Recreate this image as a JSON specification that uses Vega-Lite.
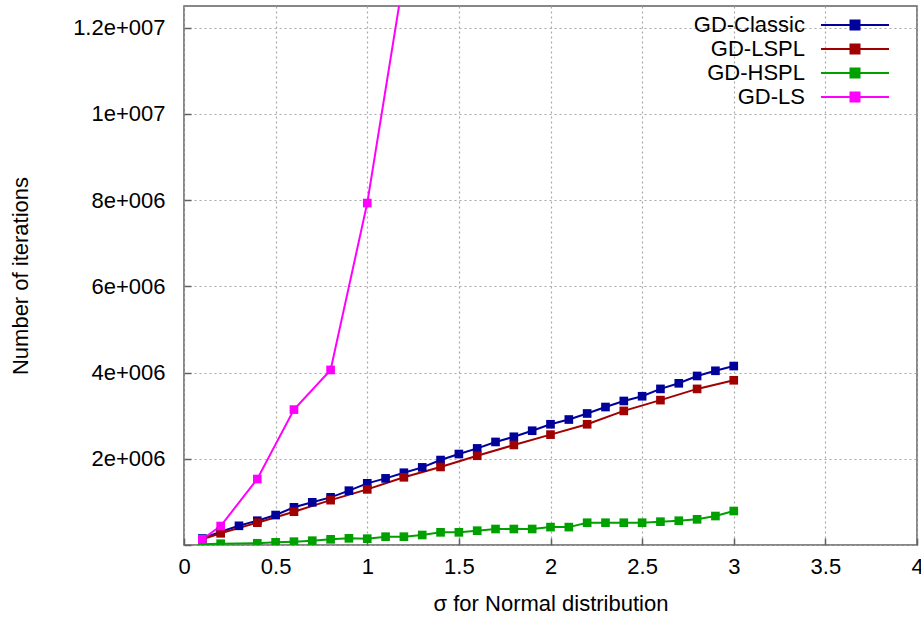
{
  "$schema": "https://vega.github.io/schema/vega-lite/v6.json",
  "width": 733,
  "height": 539,
  "autosize": {"type": "none"},
  "padding": {"left": 184, "top": 6, "right": 4, "bottom": 74},
  "background": "white",
  "config": {
    "font": "Liberation Sans",
    "view": {"stroke": "#606060", "strokeWidth": 1.5},
    "axis": {
      "labelFont": "Liberation Sans",
      "titleFont": "Liberation Sans",
      "labelFontSize": 22,
      "titleFontSize": 22,
      "labelColor": "#000",
      "titleColor": "#000",
      "titleFontWeight": "normal",
      "domain": false,
      "gridColor": "#a8a8a8",
      "gridDash": [2, 3],
      "gridWidth": 1.2,
      "tickColor": "#606060",
      "tickWidth": 1.5
    }
  },
  "data": {
    "values": [
      {"s": "GD-Classic", "x": 0.1, "y": 150000},
      {"s": "GD-Classic", "x": 0.2, "y": 310000},
      {"s": "GD-Classic", "x": 0.3, "y": 445000},
      {"s": "GD-Classic", "x": 0.4, "y": 563000},
      {"s": "GD-Classic", "x": 0.5, "y": 695000},
      {"s": "GD-Classic", "x": 0.6, "y": 874000},
      {"s": "GD-Classic", "x": 0.7, "y": 990000},
      {"s": "GD-Classic", "x": 0.8, "y": 1105000},
      {"s": "GD-Classic", "x": 0.9, "y": 1260000},
      {"s": "GD-Classic", "x": 1.0, "y": 1430000},
      {"s": "GD-Classic", "x": 1.1, "y": 1545000},
      {"s": "GD-Classic", "x": 1.2, "y": 1676000},
      {"s": "GD-Classic", "x": 1.3, "y": 1800000},
      {"s": "GD-Classic", "x": 1.4, "y": 1970000},
      {"s": "GD-Classic", "x": 1.5, "y": 2110000},
      {"s": "GD-Classic", "x": 1.6, "y": 2240000},
      {"s": "GD-Classic", "x": 1.7, "y": 2390000},
      {"s": "GD-Classic", "x": 1.8, "y": 2510000},
      {"s": "GD-Classic", "x": 1.9, "y": 2650000},
      {"s": "GD-Classic", "x": 2.0, "y": 2800000},
      {"s": "GD-Classic", "x": 2.1, "y": 2910000},
      {"s": "GD-Classic", "x": 2.2, "y": 3050000},
      {"s": "GD-Classic", "x": 2.3, "y": 3200000},
      {"s": "GD-Classic", "x": 2.4, "y": 3340000},
      {"s": "GD-Classic", "x": 2.5, "y": 3450000},
      {"s": "GD-Classic", "x": 2.6, "y": 3620000},
      {"s": "GD-Classic", "x": 2.7, "y": 3750000},
      {"s": "GD-Classic", "x": 2.8, "y": 3920000},
      {"s": "GD-Classic", "x": 2.9, "y": 4040000},
      {"s": "GD-Classic", "x": 3.0, "y": 4150000},
      {"s": "GD-LSPL", "x": 0.1, "y": 132000},
      {"s": "GD-LSPL", "x": 0.2, "y": 271000},
      {"s": "GD-LSPL", "x": 0.4, "y": 517000},
      {"s": "GD-LSPL", "x": 0.6, "y": 772000},
      {"s": "GD-LSPL", "x": 0.8, "y": 1040000},
      {"s": "GD-LSPL", "x": 1.0, "y": 1290000},
      {"s": "GD-LSPL", "x": 1.2, "y": 1570000},
      {"s": "GD-LSPL", "x": 1.4, "y": 1810000},
      {"s": "GD-LSPL", "x": 1.6, "y": 2070000},
      {"s": "GD-LSPL", "x": 1.8, "y": 2320000},
      {"s": "GD-LSPL", "x": 2.0, "y": 2560000},
      {"s": "GD-LSPL", "x": 2.2, "y": 2800000},
      {"s": "GD-LSPL", "x": 2.4, "y": 3110000},
      {"s": "GD-LSPL", "x": 2.6, "y": 3360000},
      {"s": "GD-LSPL", "x": 2.8, "y": 3620000},
      {"s": "GD-LSPL", "x": 3.0, "y": 3820000},
      {"s": "GD-HSPL", "x": 0.1, "y": 20000},
      {"s": "GD-HSPL", "x": 0.2, "y": 30000},
      {"s": "GD-HSPL", "x": 0.4, "y": 40000},
      {"s": "GD-HSPL", "x": 0.5, "y": 62000},
      {"s": "GD-HSPL", "x": 0.6, "y": 77000},
      {"s": "GD-HSPL", "x": 0.7, "y": 100000},
      {"s": "GD-HSPL", "x": 0.8, "y": 132000},
      {"s": "GD-HSPL", "x": 0.9, "y": 155000},
      {"s": "GD-HSPL", "x": 1.0, "y": 147000},
      {"s": "GD-HSPL", "x": 1.1, "y": 193000},
      {"s": "GD-HSPL", "x": 1.2, "y": 193000},
      {"s": "GD-HSPL", "x": 1.3, "y": 232000},
      {"s": "GD-HSPL", "x": 1.4, "y": 294000},
      {"s": "GD-HSPL", "x": 1.5, "y": 294000},
      {"s": "GD-HSPL", "x": 1.6, "y": 332000},
      {"s": "GD-HSPL", "x": 1.7, "y": 371000},
      {"s": "GD-HSPL", "x": 1.8, "y": 371000},
      {"s": "GD-HSPL", "x": 1.9, "y": 371000},
      {"s": "GD-HSPL", "x": 2.0, "y": 415000},
      {"s": "GD-HSPL", "x": 2.1, "y": 415000},
      {"s": "GD-HSPL", "x": 2.2, "y": 517000},
      {"s": "GD-HSPL", "x": 2.3, "y": 517000},
      {"s": "GD-HSPL", "x": 2.4, "y": 517000},
      {"s": "GD-HSPL", "x": 2.5, "y": 517000},
      {"s": "GD-HSPL", "x": 2.6, "y": 541000},
      {"s": "GD-HSPL", "x": 2.7, "y": 563000},
      {"s": "GD-HSPL", "x": 2.8, "y": 595000},
      {"s": "GD-HSPL", "x": 2.9, "y": 672000},
      {"s": "GD-HSPL", "x": 3.0, "y": 788000},
      {"s": "GD-LS", "x": 0.1, "y": 132000},
      {"s": "GD-LS", "x": 0.2, "y": 440000},
      {"s": "GD-LS", "x": 0.4, "y": 1530000},
      {"s": "GD-LS", "x": 0.6, "y": 3140000},
      {"s": "GD-LS", "x": 0.8, "y": 4060000},
      {"s": "GD-LS", "x": 1.0, "y": 7930000},
      {"s": "GD-LS", "x": 1.2, "y": 13200000}
    ]
  },
  "mark": {
    "type": "line",
    "strokeWidth": 2,
    "clip": true,
    "point": {"shape": "square", "filled": true, "size": 75, "opacity": 1, "clip": true}
  },
  "encoding": {
    "x": {
      "field": "x",
      "type": "quantitative",
      "scale": {"domain": [0, 4], "nice": false},
      "axis": {
        "values": [0, 0.5, 1, 1.5, 2, 2.5, 3, 3.5, 4],
        "format": "~g",
        "title": "σ for Normal distribution",
        "tickSize": -7,
        "labelPadding": 18,
        "titlePadding": 16,
        "labelFlush": false
      }
    },
    "y": {
      "field": "y",
      "type": "quantitative",
      "scale": {"domain": [0, 12500000], "nice": false, "zero": true},
      "axis": {
        "values": [0, 2000000, 4000000, 6000000, 8000000, 10000000, 12000000],
        "labelExpr": "datum.value == 0 ? '' : format(datum.value / pow(10, floor(log(datum.value) / LN10 + 1e-9)), '~g') + 'e+00' + floor(log(datum.value) / LN10 + 1e-9)",
        "title": "Number of iterations",
        "tickSize": -7,
        "labelPadding": 26,
        "titlePadding": 40,
        "labelFlush": false
      }
    },
    "color": {
      "field": "s",
      "type": "nominal",
      "scale": {
        "domain": ["GD-Classic", "GD-LSPL", "GD-HSPL", "GD-LS"],
        "range": ["#00009b", "#a00000", "#00a000", "#ff00ff"]
      },
      "legend": {
        "title": null,
        "orient": "none",
        "legendX": 660,
        "legendY": 8,
        "padding": 0,
        "symbolType": "M-3.4,0H3.4M-0.45,-0.45H0.45V0.45H-0.45Z",
        "symbolSize": 400,
        "symbolStrokeWidth": 2,
        "labelAlign": "right",
        "labelOffset": -61,
        "labelFont": "Liberation Sans",
        "labelFontSize": 22,
        "labelColor": "#000",
        "labelLimit": 300,
        "rowPadding": 2,
        "encode": {
          "symbols": {
            "update": {
              "stroke": {"scale": "color", "field": "value"},
              "fill": {"scale": "color", "field": "value"},
              "opacity": {"value": 1}
            }
          }
        }
      }
    }
  }
}
